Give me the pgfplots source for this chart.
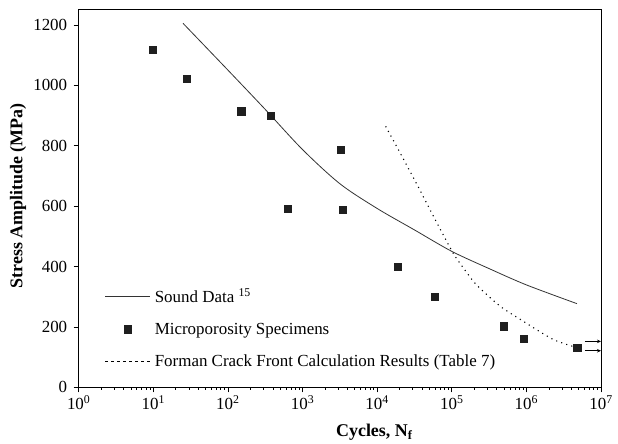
\documentclass[border=0pt]{standalone}
\usepackage{pgfplots}
\pgfplotsset{compat=1.18}
\usepackage{fontspec}
\setmainfont{Liberation Serif}
\usetikzlibrary{arrows.meta}
\begin{document}
\begin{tikzpicture}
\path[use as bounding box] (-78.7bp,-56.7bp) rectangle (539.3bp,387.3bp);
\begin{axis}[
  at={(0,0)}, anchor=south west,
  width=522.3bp, height=377.6bp, scale only axis,
  xmode=log, xmin=1, xmax=1e7, ymin=0, ymax=1250,
  xtick={1,10,100,1000,10000,100000,1000000,10000000},
  xticklabels={10\textsuperscript{0},10\textsuperscript{1},10\textsuperscript{2},10\textsuperscript{3},10\textsuperscript{4},10\textsuperscript{5},10\textsuperscript{6},10\textsuperscript{7}},
  ytick={0,200,400,600,800,1000,1200},
  /pgf/number format/1000 sep={},
  tick align=outside, xtick pos=left, ytick pos=left,
  major tick length=5bp, minor tick length=2.5bp,
  tick style={black, line width=0.6bp},
  axis line style={black, line width=0.8bp},
  /pgf/number format/assume math mode=true,
  ticklabel style={font=\fontsize{17}{20}\selectfont},
  yticklabel style={xshift=-3bp},
  xlabel={\bfseries Cycles, N\textsubscript{f}},
  ylabel={\bfseries Stress Amplitude (MPa)},
  label style={font=\fontsize{18}{21}\selectfont},
  xlabel style={at={(axis description cs:0.566,-0.118)}, anchor=center},
  ylabel style={at={(axis description cs:-0.116,0.507)}, anchor=center, rotate=0},
  clip=false,
  legend cell align=left,
  legend style={at={(axis description cs:0.05,0.268)}, anchor=north west,
    draw=none, fill=none, font=\fontsize{17}{20}\selectfont,
    row sep=15bp, inner sep=0pt, nodes={inner xsep=4bp}},
]
\addplot[color=black!80, line width=0.8bp, smooth, tension=0.5,
  legend image code/.code={\draw[black!80, line width=0.8bp] (0bp,0bp) -- (45bp,0bp);}]
  coordinates {
  (25,1205) (100,1050) (316,920) (1000,787) (3162,674) (10000,592)
  (31623,521) (100000,450) (316228,393) (1000000,339) (4750000,277)
};
\addlegendentry{Sound Data \textsuperscript{15}}
\addplot[only marks, mark=square*, mark size=3.6bp, mark options={fill=black!88, draw=black!88},
  legend image code/.code={\draw[black!88, fill=black!88] (19bp,-3.6bp) rectangle (26.2bp,3.6bp);}]
  coordinates {
  (9.7,1117) (28,1022) (151,914) (375,900) (634,590) (3280,787) (3420,588)
  (18900,398) (59700,300) (492000,202) (931000,161) (4790000,131)
};
\addlegendentry{Microporosity Specimens}
\addplot[black, line width=1.1bp, dash pattern=on 1.1bp off 4.2bp, smooth, tension=0.4,
  legend image code/.code={\draw[black, line width=0.6bp, dash pattern=on 3bp off 3bp] (0bp,0bp) -- (45bp,0bp);}]
  coordinates {
  (13000,864) (22000,760) (37000,655) (62000,548) (105000,443) (150000,388)
  (216000,338) (447000,268) (930000,217) (2300000,158) (4800000,131)
};
\addlegendentry{Forman Crack Front Calculation Results (Table 7)}
\addplot[forget plot, black, line width=0.6bp, -{Stealth[length=4bp,width=3.5bp]}]
  coordinates {(6.1e6,152) (1e7,152)};
\addplot[forget plot, black, line width=0.6bp, -{Stealth[length=4bp,width=3.5bp]}]
  coordinates {(6.1e6,121) (1e7,121)};
\end{axis}
\end{tikzpicture}
\end{document}
